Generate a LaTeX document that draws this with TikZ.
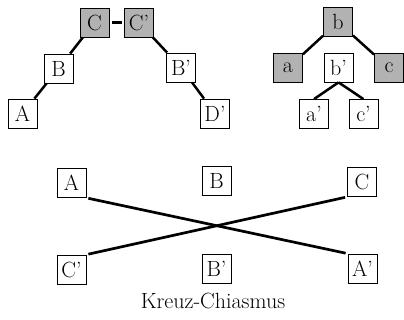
\documentclass[tikz,border=0pt]{standalone}
\usetikzlibrary{calc}
\begin{document}
\begin{tikzpicture}[x=1pt,y=1pt,
  box/.style={draw=black,line width=0.8pt,minimum size=29pt,inner sep=0pt,font=\fontsize{22}{24}\selectfont,fill=white},
  shade/.style={box,fill=black!30},
  link/.style={line width=2.5pt},
  cross/.style={line width=2.7pt,shorten <=2pt,shorten >=2pt}]
\useasboundingbox (0,0) rectangle (404,-320);
% top-left tree
\node[shade] (C) at (94.5,-22.5) {C};
\node[shade] (Cp) at (139,-22.5) {C'};
\node[box] (B) at (58.5,-68.5) {B};
\node[box] (A) at (22.5,-113.5) {A};
\node[box] (Bp) at (181,-67.5) {B'};
\node[box] (Dp) at (215,-113.5) {D'};
\draw[link,shorten <=3pt,shorten >=2pt] (C) -- (Cp);
\draw[link] (C) -- (B);
\draw[link] (B) -- (A);
\draw[link] (Cp) -- (Bp);
\draw[link] (Bp) -- (Dp);
% top-right tree
\node[shade] (b) at (338,-22) {b};
\node[shade] (a) at (288,-68) {a};
\node[shade] (c) at (389,-68) {c};
\node[box] (bp) at (338.5,-67.5) {b'};
\node[box] (ap) at (314,-114) {a'};
\node[box] (cp) at (363.5,-114) {c'};
\draw[link] (b) -- (a);
\draw[link] (b) -- (c);
\draw[link] (bp.south) -- (ap.north);
\draw[link] (bp.south) -- (cp.north);
% chiasmus
\node[box] (X1) at (71.5,-183) {A};
\node[box] (X2) at (216.5,-181) {B};
\node[box] (X3) at (362,-182) {C};
\node[box] (Y1) at (71.5,-269.5) {C'};
\node[box] (Y2) at (216.5,-269) {B'};
\node[box] (Y3) at (362.5,-268.5) {A'};
\draw[cross] (X1.south east) -- (Y3.north west);
\draw[cross] (X3.south west) -- (Y1.north east);
\node[font=\fontsize{22}{25}\selectfont] (cap) at (213,-301) {Kreuz-Chiasmus};
\end{tikzpicture}
\end{document}
